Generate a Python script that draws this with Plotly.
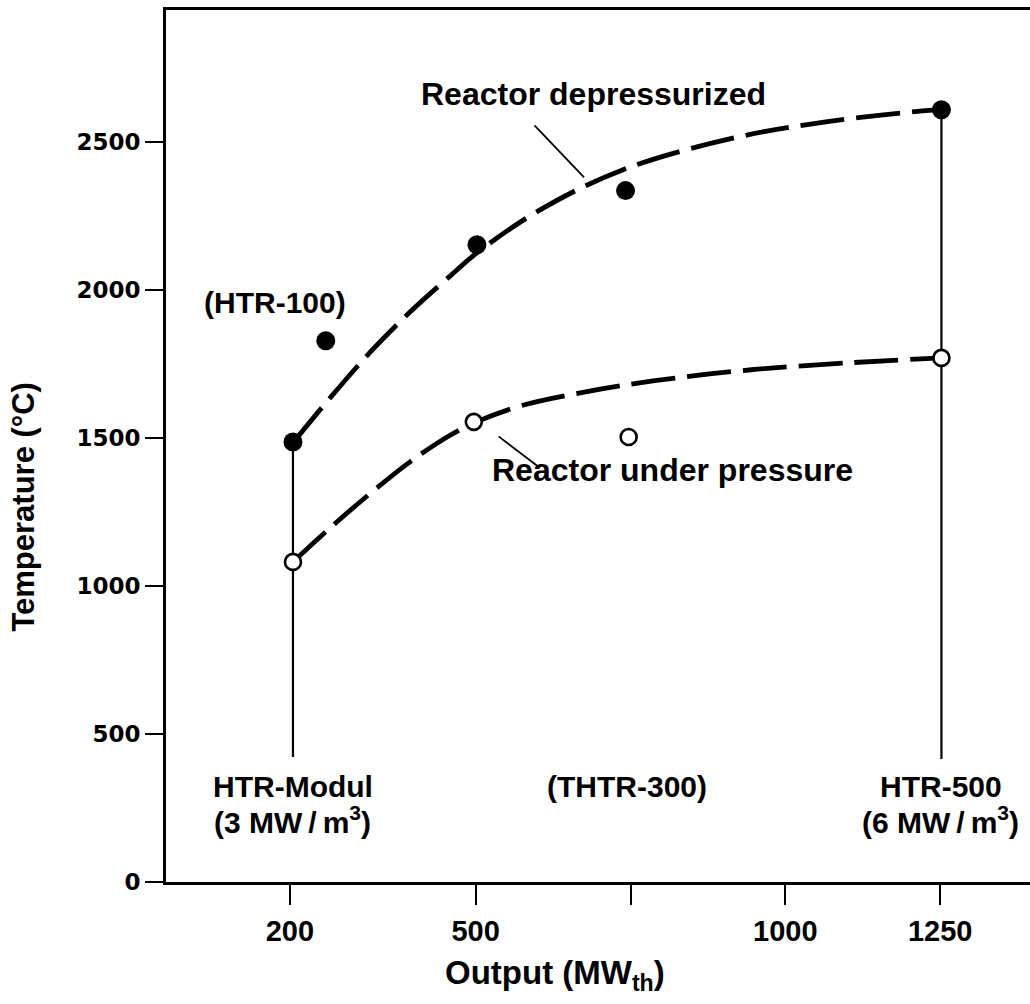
import plotly.graph_objects as go

# ---- data ----
# measured reactor points
depress_x = [205, 258, 502, 742, 1252]
depress_y = [1486, 1828, 2152, 2335, 2608]
press_x = [205, 497, 747, 1252]
press_y = [1081, 1554, 1503, 1770]

# fitted dashed curves
curve_dep_x = [206, 265, 330, 394, 459, 502, 604, 737, 919, 1068, 1226, 1252]
curve_dep_y = [1486, 1635, 1790, 1925, 2047, 2125, 2270, 2405, 2514, 2568, 2605, 2608]
curve_pr_x = [205, 265, 329, 394, 458, 500, 574, 671, 789, 945, 1107, 1252]
curve_pr_y = [1081, 1196, 1311, 1419, 1508, 1553, 1609, 1653, 1693, 1730, 1754, 1770]

# vertical reference lines (HTR-Modul, HTR-500)
ref_x = [205, 1252]
ref_bottom = [422, 415]
ref_top = [1486, 2608]

x_ticks = [200, 500, 750, 1000, 1250]
x_ticktext = ["200", "500", " ", "1000", "1250"]
y_ticks = [0, 500, 1000, 1500, 2000, 2500]

FONT = "Liberation Sans"

fig = go.Figure()

for xv, yb, yt in zip(ref_x, ref_bottom, ref_top):
    fig.add_trace(go.Scatter(x=[xv, xv], y=[yb, yt], mode="lines",
                             line=dict(color="black", width=2.2), hoverinfo="skip"))

fig.add_trace(go.Scatter(x=curve_dep_x, y=curve_dep_y, mode="lines",
                         line=dict(color="black", width=4.8, dash="44px,12px",
                                   shape="spline", smoothing=1.0)))
fig.add_trace(go.Scatter(x=curve_pr_x, y=curve_pr_y, mode="lines",
                         line=dict(color="black", width=4.8, dash="44px,12px",
                                   shape="spline", smoothing=1.0)))

fig.add_trace(go.Scatter(x=depress_x, y=depress_y, mode="markers",
                         marker=dict(size=19, color="black", line=dict(width=0))))
fig.add_trace(go.Scatter(x=press_x, y=press_y, mode="markers",
                         marker=dict(size=16, color="white", line=dict(width=2.6, color="black"))))

# leader lines
fig.add_shape(type="line", x0=595, y0=2555, x1=675, y1=2380, line=dict(color="black", width=1.8))
fig.add_shape(type="line", x0=537, y0=1505, x1=603, y1=1400, line=dict(color="black", width=1.8))


def bold(size, family=FONT):
    return dict(family=family, size=size, color="black", weight="bold")


ann = [
    ("Reactor depressurized", 691, 2660, 32),
    ("(HTR-100)", 176, 1957, 30),
    ("Reactor under pressure", 817, 1392, 32),
    ("HTR-Modul", 205, 321, 30),
    ("(3 MW\u2009/\u2009m<sup>3</sup>)", 205, 208, 30),
    ("(THTR-300)", 744, 321, 30),
    ("HTR-500", 1251, 321, 30),
    ("(6 MW\u2009/\u2009m<sup>3</sup>)", 1251, 208, 30),
]
for t, xa, ya, fs in ann:
    fig.add_annotation(text=t, x=xa, y=ya, showarrow=False, font=bold(fs),
                       xanchor="center", yanchor="middle")

# axis titles
fig.add_annotation(text="Temperature (°C)", xref="paper", yref="paper",
                   x=-0.166, y=0.43, textangle=-90, showarrow=False,
                   font=bold(31), xanchor="center", yanchor="middle")
fig.add_annotation(text="Output (MW<sub>th</sub>)", xref="paper", yref="paper",
                   x=0.45, y=-0.107, showarrow=False,
                   font=bold(33), xanchor="center", yanchor="middle")

fig.update_layout(
    width=1030, height=1004,
    margin=dict(l=166, r=0, t=10, b=122),
    paper_bgcolor="white", plot_bgcolor="white",
    showlegend=False,
    xaxis=dict(range=[0, 1395], tickvals=x_ticks, ticktext=x_ticktext,
               showgrid=False, zeroline=False, showline=True, linecolor="black",
               linewidth=3, mirror=True, ticks="outside", ticklen=20, tickwidth=2,
               tickcolor="black", ticklabelstandoff=1,
               tickfont=bold(29)),
    yaxis=dict(range=[0, 2945], tickvals=y_ticks,
               showgrid=False, zeroline=False, showline=True, linecolor="black",
               linewidth=3, ticks="outside", ticklen=18, tickwidth=2, tickcolor="black",
               tickfont=bold(23, "DejaVu Sans")),
)

fig.write_html("out.html")
